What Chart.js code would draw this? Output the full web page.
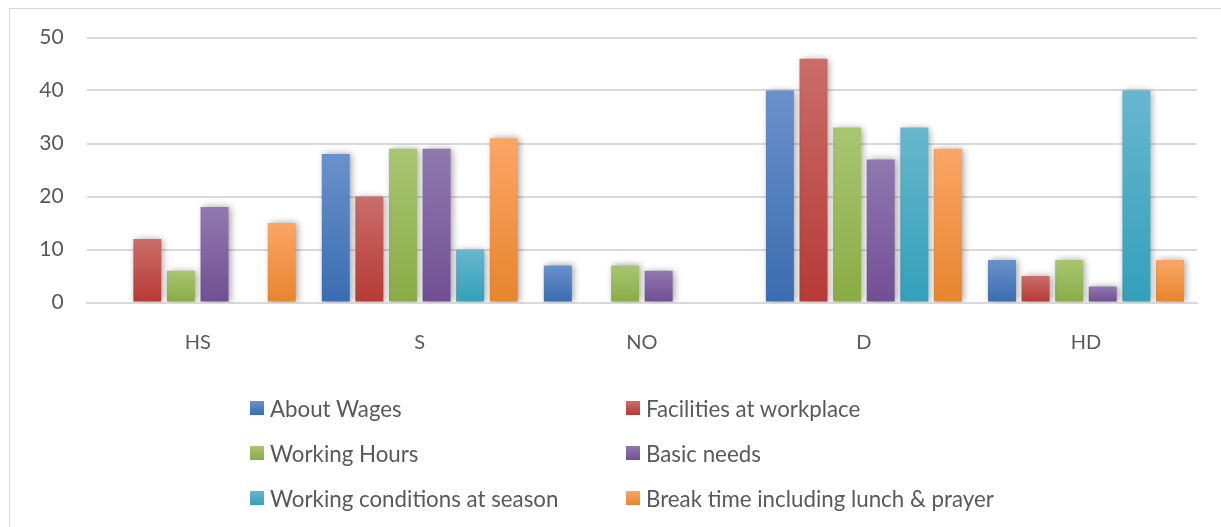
<!DOCTYPE html>
<html>
<head>
<meta charset="utf-8">
<script src="https://cdn.jsdelivr.net/npm/chart.js@4.4.1/dist/chart.umd.min.js"></script>
<style>
  html, body { margin: 0; padding: 0; background: #fff; }
  body { width: 1221px; height: 527px; position: relative; overflow: hidden; font-family: Lato, "Liberation Sans", sans-serif; }
  #frame { position: absolute; left: 9px; top: 8px; width: 1400px; height: 700px; border: 1.5px solid #d9d9d9; box-sizing: border-box; }
  #wrap { position: absolute; left: 0; top: 0; width: 1221px; height: 527px; }
  #legend { position: absolute; left: 0; top: 0; width: 1221px; height: 527px; pointer-events: none; }
  .item { position: absolute; height: 30px; display: flex; align-items: center; color: #595959; font-size: 22.3px; white-space: nowrap; }
  .sw { width: 14px; height: 14px; margin-right: 6px; }
</style>
</head>
<body>
<div id="frame"></div>
<div id="wrap"><canvas id="c" width="1221" height="527"></canvas></div>
<div id="legend"></div>
<script>
const categories = ["HS", "S", "NO", "D", "HD"];
const seriesNames = ["About Wages", "Facilities at workplace", "Working Hours", "Basic needs", "Working conditions at season", "Break time including lunch & prayer"];
const aboutWages      = [0, 28, 7, 40, 8];
const facilities      = [12, 20, 0, 46, 5];
const workingHours    = [6, 29, 7, 33, 8];
const basicNeeds      = [18, 29, 6, 27, 3];
const workingCond     = [0, 10, 0, 33, 40];
const breakTime       = [15, 31, 0, 29, 8];
const yTicks = [0, 10, 20, 30, 40, 50];

const seriesValues = [aboutWages, facilities, workingHours, basicNeeds, workingCond, breakTime];
const topColors    = ["#6a91cb", "#ca6d69", "#a8c671", "#9079af", "#67b7ce", "#fba566"];
const bottomColors = ["#3a6db0", "#b73a36", "#89ac45", "#724f94", "#33a0bb", "#e8852d"];

const gradientPlugin = {
  id: 'barGradients',
  beforeDatasetDraw(chart, args) {
    const ctx = chart.ctx;
    const meta = args.meta;
    const i = args.index;
    meta.data.forEach(el => {
      const top = Math.min(el.y, el.base), bot = Math.max(el.y, el.base);
      if (bot - top < 0.5) return;
      const g = ctx.createLinearGradient(0, top, 0, bot);
      g.addColorStop(0, topColors[i]);
      g.addColorStop(1, bottomColors[i]);
      el.options.backgroundColor = g;
    });
  }
};
const shadowPlugin = {
  id: 'barShadow',
  beforeDatasetsDraw(chart) {
    const ctx = chart.ctx;
    ctx.save();
    ctx.shadowColor = 'rgba(0,0,0,0.38)';
    ctx.shadowBlur = 7;
    ctx.shadowOffsetX = 2;
    ctx.shadowOffsetY = 0;
  },
  afterDatasetsDraw(chart) {
    chart.ctx.restore();
  }
};

const datasets = seriesNames.map((name, i) => ({
  label: name,
  data: seriesValues[i],
  backgroundColor: () => bottomColors[i],
  borderWidth: 0,
  categoryPercentage: 0.908,
  barPercentage: 0.833
}));

new Chart(document.getElementById('c'), {
  type: 'bar',
  data: { labels: categories, datasets },
  plugins: [gradientPlugin, shadowPlugin],
  options: {
    responsive: false,
    animation: false,
    layout: { padding: { left: 0, right: 24, top: 37.5, bottom: 164.5 } },
    plugins: { legend: { display: false }, tooltip: { enabled: false } },
    scales: {
      x: {
        grid: { display: false, drawTicks: false },
        border: { display: true, color: '#d9d9d9', width: 2 },
        ticks: { color: '#595959', font: { family: 'Lato', size: 20 }, padding: 28 },
        afterFit(s) { s.height = 60; }
      },
      y: {
        min: 0, max: 50,
        afterBuildTicks(s) { s.ticks = yTicks.map(v => ({ value: v })); },
        grid: { color: '#d9d9d9', lineWidth: 2, drawTicks: false },
        border: { display: false },
        ticks: { color: '#595959', font: { family: 'Lato', size: 21 }, padding: 23 },
        afterFit(s) { s.width = 86.7; }
      }
    }
  }
});

const legend = document.getElementById('legend');
const colX = [250, 626];
const rowY = [408, 453, 498];
seriesNames.forEach((name, i) => {
  const d = document.createElement('div');
  d.className = 'item';
  d.style.left = colX[i % 2] + 'px';
  d.style.top = (rowY[Math.floor(i / 2)] - 15) + 'px';
  const sw = document.createElement('span');
  sw.className = 'sw';
  sw.style.background = 'linear-gradient(' + topColors[i] + ',' + bottomColors[i] + ')';
  const t = document.createElement('span');
  t.textContent = name;
  d.appendChild(sw); d.appendChild(t);
  legend.appendChild(d);
});
</script>
</body>
</html>
